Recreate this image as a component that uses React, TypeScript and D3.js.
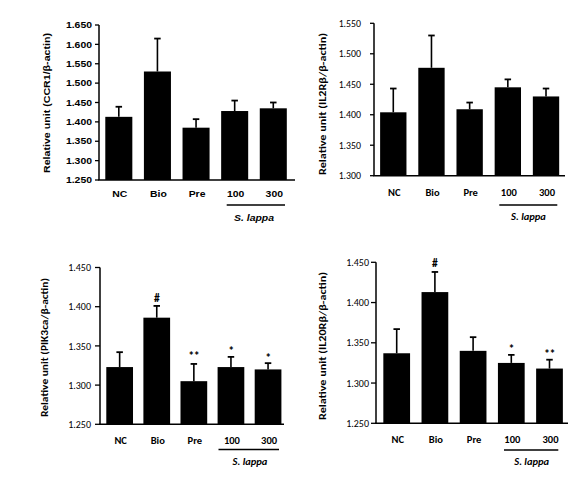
import React from "react";
import * as d3 from "d3";

const categories = ["NC", "Bio", "Pre", "100", "300"];

const ccr1Mean = [1.413, 1.53, 1.385, 1.428, 1.435];
const ccr1Sd = [0.026, 0.085, 0.022, 0.027, 0.015];
const ccr1Ticks = [1.25, 1.3, 1.35, 1.4, 1.45, 1.5, 1.55, 1.6, 1.65];
const ccr1Marks = ["", "", "", "", ""];

const il2rbMean = [1.404, 1.477, 1.409, 1.445, 1.43];
const il2rbSd = [0.039, 0.053, 0.011, 0.013, 0.013];
const il2rbTicks = [1.3, 1.35, 1.4, 1.45, 1.5, 1.55];
const il2rbMarks = ["", "", "", "", ""];

const pik3caMean = [1.323, 1.386, 1.305, 1.323, 1.32];
const pik3caSd = [0.019, 0.015, 0.022, 0.013, 0.008];
const pik3caTicks = [1.25, 1.3, 1.35, 1.4, 1.45];
const pik3caMarks = ["", "#", "**", "*", "*"];

const il20rbMean = [1.337, 1.413, 1.34, 1.325, 1.318];
const il20rbSd = [0.03, 0.025, 0.017, 0.01, 0.011];
const il20rbTicks = [1.25, 1.3, 1.35, 1.4, 1.45];
const il20rbMarks = ["", "#", "", "*", "**"];

const groupLabel = "S. lappa";

type PanelProps = {
  means: number[];
  sds: number[];
  ticks: number[];
  marks: string[];
  yLabel: string;
  axisX: number;
  topY: number;
  baseY: number;
  xEnd: number;
  bandRange: [number, number];
  barFrac: number;
  labelRight: number;
  tickLen: number;
  yLabelX: number;
  yLabelMid: number;
  yLabelLen: number;
  catY: number;
  lineY: number;
  lineX: [number, number];
  groupX: number;
  groupY: number;
  font: string;
  weight: number | string;
  tickWeight: number | string;
  tickSize: number;
  labelSize: number;
  yLabelSize: number;
  sx: number;
  markOffsets: number[];
};

function Panel(p: PanelProps) {
  const y = d3
    .scaleLinear()
    .domain([p.ticks[0], p.ticks[p.ticks.length - 1]])
    .range([p.baseY, p.topY]);
  const pad = 1 - p.barFrac;
  const x = d3
    .scaleBand<string>()
    .domain(categories)
    .range(p.bandRange)
    .paddingInner(pad)
    .paddingOuter(pad / 2);
  const fmt = d3.format(".3f");
  const bw = x.bandwidth();
  const capW = 6.5;
  const tr = (tx: number, ty: number) => `translate(${tx},${ty}) scale(${p.sx},1)`;
  return (
    <g fontFamily={p.font} fill="#000">
      {categories.map((c, i) => {
        const x0 = x(c)!;
        const cx = x0 + bw / 2;
        const top = y(p.means[i]);
        const errTop = y(p.means[i] + p.sds[i]);
        const isHash = p.marks[i] === "#";
        return (
          <g key={c}>
            <rect x={x0} y={top} width={bw} height={p.baseY - top} fill="#000" />
            <line x1={cx} x2={cx} y1={top} y2={errTop} stroke="#000" strokeWidth={1.6} />
            <line x1={cx - capW / 2} x2={cx + capW / 2} y1={errTop} y2={errTop} stroke="#000" strokeWidth={1.8} />
            {p.marks[i] ? (
              <text
                x={cx}
                y={errTop - p.markOffsets[i]}
                textAnchor="middle"
                fontSize={isHash ? 11.5 : 12}
                fontWeight={600}
                letterSpacing={isHash ? 0 : -0.5}
              >
                {p.marks[i]}
              </text>
            ) : null}
            <text
              transform={tr(cx + 1, p.catY)}
              textAnchor="middle"
              fontSize={p.labelSize}
              fontWeight={p.weight}
            >
              {c}
            </text>
          </g>
        );
      })}
      <line x1={p.axisX} x2={p.axisX} y1={p.topY} y2={p.baseY} stroke="#000" strokeWidth={1.5} />
      <line x1={p.axisX - 0.75} x2={p.xEnd} y1={p.baseY} y2={p.baseY} stroke="#000" strokeWidth={1.6} />
      {p.ticks.map((t) => (
        <g key={t}>
          <line
            x1={p.axisX - p.tickLen}
            x2={p.axisX}
            y1={y(t)}
            y2={y(t)}
            stroke="#000"
            strokeWidth={1.3}
          />
          <text
            transform={tr(p.labelRight, y(t))}
            dy="0.36em"
            textAnchor="end"
            fontSize={p.tickSize}
            fontWeight={p.tickWeight}
          >
            {fmt(t)}
          </text>
        </g>
      ))}
      <text
        transform={`translate(${p.yLabelX},${p.yLabelMid}) rotate(-90)`}
        textAnchor="middle"
        dy="0.35em"
        fontSize={p.yLabelSize}
        fontWeight={p.weight}
        textLength={p.yLabelLen}
        lengthAdjust="spacingAndGlyphs"
      >
        {p.yLabel}
      </text>
      <line x1={p.lineX[0]} x2={p.lineX[1]} y1={p.lineY} y2={p.lineY} stroke="#000" strokeWidth={1.3} />
      <text
        transform={tr(p.groupX, p.groupY)}
        textAnchor="middle"
        fontSize={p.labelSize}
        fontStyle="italic"
        fontWeight={p.weight}
      >
        {groupLabel}
      </text>
    </g>
  );
}

const arial = "'Liberation Sans', Arial, sans-serif";
const calibri = "Carlito, Lato, 'Open Sans', sans-serif";

export default function App() {
  return (
    <svg
      width={578}
      height={483}
      style={{ position: "absolute", left: 0, top: 0, background: "#fff" }}
    >
      <rect x={0} y={0} width={578} height={483} fill="#fff" />
      <Panel
        means={ccr1Mean}
        sds={ccr1Sd}
        ticks={ccr1Ticks}
        marks={ccr1Marks}
        yLabel="Relative unit (CCR1/β-actin)"
        axisX={99}
        topY={25}
        baseY={180}
        xEnd={295}
        bandRange={[99.5, 292.6]}
        barFrac={0.7}
        labelRight={92}
        tickLen={4}
        yLabelX={47}
        yLabelMid={103}
        yLabelLen={140}
        catY={196.5}
        lineY={205}
        lineX={[226.7, 285]}
        groupX={254}
        groupY={220.5}
        font={arial}
        weight="bold"
        tickWeight="bold"
        tickSize={9}
        labelSize={9}
        yLabelSize={9}
        sx={1.16}
        markOffsets={[4, 4, 4, 4, 4]}
      />
      <Panel
        means={il2rbMean}
        sds={il2rbSd}
        ticks={il2rbTicks}
        marks={il2rbMarks}
        yLabel="Relative unit  (IL2Rβ/β-actin)"
        axisX={374}
        topY={23.3}
        baseY={175.7}
        xEnd={565}
        bandRange={[374.2, 565.1]}
        barFrac={0.69}
        labelRight={361}
        tickLen={4}
        yLabelX={322}
        yLabelMid={104}
        yLabelLen={142}
        catY={195.8}
        lineY={205}
        lineX={[499.3, 557.3]}
        groupX={528.5}
        groupY={220.3}
        font={calibri}
        weight={600}
        tickWeight={400}
        tickSize={9.8}
        labelSize={10.5}
        yLabelSize={10.5}
        sx={1}
        markOffsets={[4, 4, 4, 4, 4]}
      />
      <Panel
        means={pik3caMean}
        sds={pik3caSd}
        ticks={pik3caTicks}
        marks={pik3caMarks}
        yLabel="Relative unit  (PIK3ca/β-actin)"
        axisX={100}
        topY={267.5}
        baseY={424.3}
        xEnd={284}
        bandRange={[101.1, 286.6]}
        barFrac={0.72}
        labelRight={91}
        tickLen={5}
        yLabelX={44}
        yLabelMid={347.5}
        yLabelLen={139}
        catY={443.8}
        lineY={449.5}
        lineX={[218.5, 279]}
        groupX={250}
        groupY={465.3}
        font={calibri}
        weight={600}
        tickWeight={400}
        tickSize={10}
        labelSize={10.5}
        yLabelSize={10.5}
        sx={1}
        markOffsets={[4, 4, 4, 2, 1]}
      />
      <Panel
        means={il20rbMean}
        sds={il20rbSd}
        ticks={il20rbTicks}
        marks={il20rbMarks}
        yLabel="Relative unit  (IL20Rβ/β-actin)"
        axisX={376}
        topY={262.3}
        baseY={423.3}
        xEnd={568}
        bandRange={[377.6, 568.6]}
        barFrac={0.7}
        labelRight={369}
        tickLen={5}
        yLabelX={322.5}
        yLabelMid={346}
        yLabelLen={148}
        catY={443.2}
        lineY={450}
        lineX={[504, 558.3]}
        groupX={531.7}
        groupY={464.8}
        font={calibri}
        weight={600}
        tickWeight={400}
        tickSize={10}
        labelSize={10.5}
        yLabelSize={10.5}
        sx={1}
        markOffsets={[4, 5, 4, 2, 2]}
      />
    </svg>
  );
}
